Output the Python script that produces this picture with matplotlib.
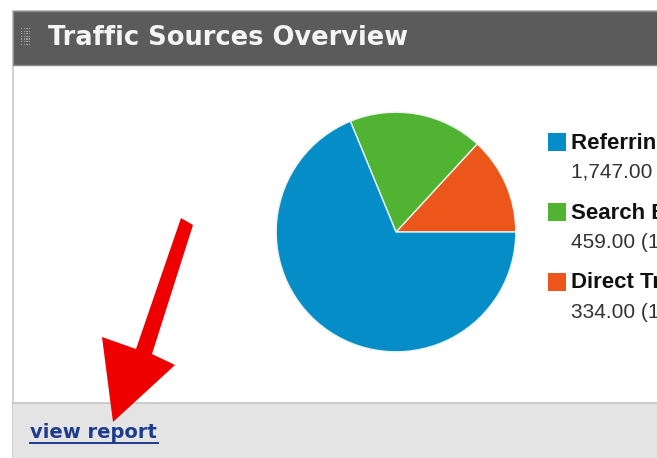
import matplotlib
matplotlib.use("Agg")
import matplotlib.pyplot as plt
from matplotlib.patches import Rectangle, Polygon
from matplotlib.lines import Line2D

# ---- data ----
categories = ["Referring Sites", "Search Engines", "Direct Traffic"]
visits = [1747.00, 459.00, 334.00]
colors = ["#058DC7", "#50B432", "#ED561B"]
title = "Traffic Sources Overview"
link_text = "view report"

W, H = 657, 458
fig = plt.figure(figsize=(W / 100, H / 100), dpi=100)
fig.patch.set_facecolor("white")

# background axes in pixel coords
bg = fig.add_axes([0, 0, 1, 1])
bg.set_xlim(0, W)
bg.set_ylim(H, 0)
bg.axis("off")

# panel border
bg.add_patch(Rectangle((13, 11), W, H, facecolor="white", edgecolor="#c8c8c8", lw=1.2))
# header
bg.add_patch(Rectangle((13, 11), W, 54, facecolor="#5b5b5b", edgecolor="#8a8a8a", lw=1))
# grip dots
for i in range(4):
    for j in range(7):
        bg.add_patch(Rectangle((21 + i * 2.6, 28 + j * 2.6), 1.3, 1.3, facecolor="#a0a0a0", lw=0))
bg.text(48, 38, title, color="#f4f4f4", fontsize=18.5, fontweight="bold",
        family="DejaVu Sans", va="center", ha="left")

# footer
bg.add_patch(Rectangle((13, 403), W, 60, facecolor="#e4e4e4", edgecolor="none"))
bg.add_line(Line2D([13, W], [403, 403], color="#c4c4c4", lw=1.2))
bg.text(30, 432, link_text, color="#1d3c8c", fontsize=14, fontweight="bold",
        family="DejaVu Sans", va="center", ha="left")
bg.add_line(Line2D([30, 158], [443, 443], color="#1d3c8c", lw=1.4))

# legend
total = sum(visits)
leg_y = [142, 212, 282]
for cat, v, c, y in zip(categories, visits, colors, leg_y):
    bg.add_patch(Rectangle((548, y - 9), 18, 18, facecolor=c, edgecolor="none"))
    bg.text(571, y + 1, cat, fontsize=16, fontweight="bold", color="#111111",
            family="Liberation Sans", va="center", ha="left")
    bg.text(571, y + 30, f"{v:,.2f} ({v / total * 100:.2f}%)", fontsize=15,
            color="#333333", family="Liberation Sans", va="center", ha="left")

# red arrow (annotation)
arrow = Polygon([(181, 218), (193, 225), (152, 354), (175, 365), (113, 422),
                 (102, 337), (136, 349)], closed=True, facecolor="#ee0000",
                edgecolor="none", zorder=5)
bg.add_patch(arrow)

# pie
cx, cy, r = 396, 232, 121
pax = fig.add_axes([(cx - r) / W, (H - cy - r) / H, 2 * r / W, 2 * r / H])
order = [2, 1, 0]
pax.pie([visits[i] for i in order], colors=[colors[i] for i in order],
        startangle=0, counterclock=True, radius=1,
        wedgeprops=dict(edgecolor="#e8f4f0", linewidth=1.0))
pax.set_xlim(-1.01, 1.01)
pax.set_ylim(-1.01, 1.01)
pax.set_aspect("auto")
pax.axis("off")

fig.savefig("out.png", dpi=100, facecolor="white")
